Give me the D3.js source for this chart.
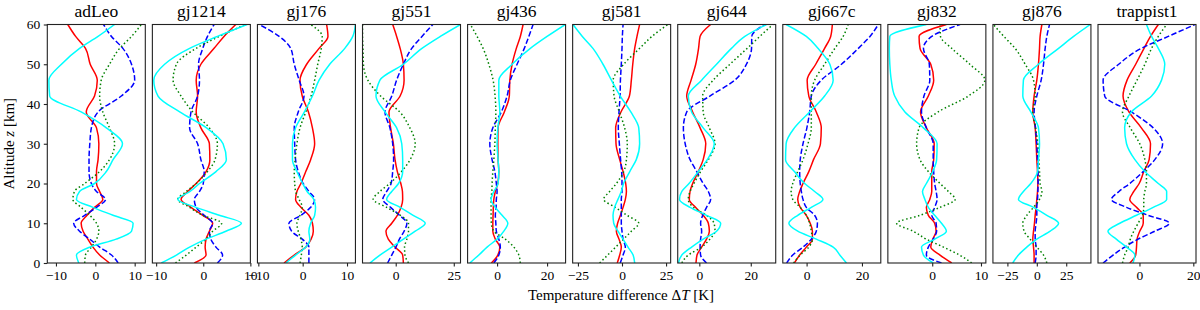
<!DOCTYPE html>
<html>
<head>
<meta charset="utf-8">
<script src="https://d3js.org/d3.v7.min.js"></script>
<style>
  body { margin: 0; background: #fff; }
  text { font-family: "Liberation Serif", "DejaVu Serif", serif; fill: #000; }
</style>
</head>
<body>
<svg id="chart" width="1200" height="310"></svg>
<script>
// altitude grid [km]
var altitudes = [0, 2, 4, 6, 8, 10, 12, 14, 16, 18, 20, 23, 26, 30, 34, 38, 42, 46, 50, 54, 57, 60];

var stars = ["adLeo", "gj1214", "gj176", "gj551", "gj436", "gj581", "gj644", "gj667c", "gj832", "gj876", "trappist1"];
var xLimits = [[-12.2, 12.7], [-10.8, 10.0], [-10.2, 11.9], [-14.3, 27.9], [-11.8, 27.4], [-28, 27.6],
               [-8.4, 29.7], [-8.6, 26.8], [-9.1, 11.0], [-37.3, 46], [-15.4, 21]];
var xTickValues = [[-10, 0, 10], [-10, 0, 10], [-10, 0, 10], [0, 25], [0, 20], [-25, 0, 25],
                   [0, 20], [0, 20], [0, 10], [-25, 0, 25], [0, 20]];
var yTickValues = [0, 10, 20, 30, 40, 50, 60];

// temperature differences [K], one array per star and curve
var adLeoRed   = [3.6, 1.1, -0.6, -1.9, -3.1, -3.6, -2.1, -0.2, 1.9, 1.1, 0.3, 0.3, 0.7, 0.9, 0.3, -2.3, -0.2, 0.5, -1.3, -2.5, -5, -7];
var adLeoBlue  = [5.8, 4.1, 1.1, -1.4, -4, -5.5, -2.7, 0.3, 2.6, 0.3, -1, -1.6, -1.6, -1.4, -1, 0.7, 6.6, 10, 9.2, 7, 4.1, 2.1];
var adLeoGreen = [-2.7, -2.5, -1, 0.3, 0.9, 0.3, -1.4, -3.6, -5.7, -5.3, -2.7, 1.1, 3.6, 4.9, 3.6, 1.9, 1.1, 1.5, 3.6, 6.2, 9.2, 11.7];
var adLeoCyan  = [-4.2, -4.8, -1.4, 5.3, 9.2, 9.6, 4.5, -0.6, -4.8, -4, -0.2, 2.8, 4.5, 6.9, 2.8, -3.6, -11.6, -11.8, -8.6, -4, 0.7, 4.9];

var gj1214Red   = [-1.9, 0.6, 0.4, 0.6, 1.3, 2, -0.1, -2.6, -4.7, -3.3, -1.5, 0.6, 1.4, 1.3, -0.5, -1.5, -1.2, -1.5, -0.5, 2.3, 4.4, 6.9];
var gj1214Blue  = [3, 4.1, 2.7, 1.6, 1.3, 2, 0.2, -1.5, -1.9, -0.8, 0, 0.2, -0.5, -1.2, -2.9, -2.6, -1.2, -0.8, -1, -0.1, 0.9, 2.3];
var gj1214Green = [-5.9, -3.6, -1.5, 0.6, 2, 3.9, -0.1, -2.9, -5.4, -3.6, -1.5, 0.9, 2.5, 3, 1.3, -2.2, -4.7, -6.4, -5.7, -1.5, 3.4, 9];
var gj1214Cyan  = [-8.9, -5.7, -2.9, 0.6, 4.8, 8.1, 3.4, -1.5, -5.4, -2.8, -0.8, 2.7, 4.9, 4.2, 0.7, -5, -9.6, -10.5, -8.2, -2.9, 3, 9.3];

var gj176Red   = [-4.2, -1.9, 0.7, 1.9, 2.4, 2.2, 1.4, -0.4, -1.6, -1.3, -0.4, 0.7, 1.8, 2.7, 2.2, 1.3, -0.1, -0.6, 0.9, 3.7, 5.7, 5.4];
var gj176Blue  = [1.4, 1.4, 1.4, -0.1, -2.5, -3.1, -0.4, 1.8, 2.7, 1.4, 0.1, -1, -1.6, -1.8, -1.9, -1, 0.3, -0.8, -1.9, -2.7, -5.3, -9.8];
var gj176Green = [-0.6, -0.3, -0.1, -0.4, -1, -1.3, -0.6, -0.1, -0.8, -1.6, -1.8, -1.9, -1.7, -1.3, -0.6, 0.7, 1.9, 2.7, 3.4, 4.2, 4.4, 1.8];
var gj176Cyan  = [-3.8, -1.6, 0.7, 1.6, 1.4, 1.8, 2.7, 2.9, 2.5, 1, 0, -1.3, -2.3, -2.3, -1.6, 0.4, 2.2, 3.7, 6.1, 9.5, 11.3, 11.9];

var gj551Red   = [3.3, 3, -0.3, -3.2, -4.2, -1.7, 0.7, 2.3, 3, 2.9, 2.2, 0.7, -0.3, -1, -2.2, -2.9, 1.9, 3.6, 3.3, 1.9, 0.4, -1.3];
var gj551Blue  = [-3.5, -1.7, 0.1, 1.6, 3.6, 4.8, 1.6, -2.2, -5.6, -3.9, -2, -1.3, -0.9, -1.3, -2.5, -4.6, -1.7, 0.4, 3.3, 6.9, 11.3, 16];
var gj551Green = [5.5, 4, 3.8, 4.8, 5.5, 5.5, 2, -3.9, -9.7, -6.8, -2.6, 2.5, 6.2, 8.4, 6.1, 1.7, -6.5, -12, -13.9, -14.1, -14.3, -14.3];
var gj551Cyan  = [-11.1, -6.8, -1.7, 3.3, 8.4, 12.7, 7.5, 1.9, -3.9, -1.7, 1.2, 3, 3, 2.6, 0.4, -4.6, -8.5, -6.8, 3.3, 11.3, 19.2, 27.9];

var gj436Red   = [-2.3, 0.3, 1.1, -0.7, -1.7, -1.7, -1.6, -1.5, -1.3, -0.7, 0.3, 0.7, 0.4, 0.3, 0.4, 2.9, 4.9, 5.1, 6, 7.7, 9.3, 10.4];
var gj436Blue  = [-1.3, 0.7, 1.3, 0.7, -0.3, -0.5, -0.7, -0.4, -0.3, 0, -0.3, -0.9, -2, -2.9, -1.7, 1.7, 4, 5.3, 8, 10.9, 12.7, 14.4];
var gj436Green = [9.3, 8.7, 6.7, 3.3, -1.3, -2.3, -2.4, -2.4, -2.4, -2.1, -2, -1.7, -1.3, -0.9, -0.7, -0.5, -0.8, -1.6, -3.3, -5.6, -8, -10.7];
var gj436Cyan  = [-10.9, -7.3, -4, 0, 2.7, 4.3, 2, -0.7, -2.4, -1.3, 0.4, 0.7, 0.4, 0, 0.3, 1.1, 0.7, 0.7, 6, 13.3, 20, 27.3];

var gj581Red   = [-2.7, -1.3, -0.4, -1.7, -3.2, -2.5, -0.9, 0.6, 1.9, 2.5, 2.1, 0.6, -1.3, -3.4, -3.6, -0.6, 4.2, 5.3, 6.1, 7.2, 8.5, 10];
var gj581Blue  = [-1, 0.6, 1.9, 0.6, 0, -0.4, -0.4, -0.4, -0.4, 0, 0, -0.2, -0.8, -1.5, -2.1, -1.7, -1.1, -0.9, -0.4, 0, 0.2, 0.6];
var gj581Green = [-12.7, -8.1, -3.6, 0.9, 5.3, 9.5, 2.8, -3.8, -10.4, -7, -3.2, 1, 2.5, 3, 1.5, -1.5, -4.5, -5, 1, 10, 17, 26];
var gj581Cyan  = [7.2, 6.3, 3.4, 0.6, -2.3, -4.7, -5.1, -4.2, -2.3, -0.4, 0.9, 4.4, 8.1, 10, 9.5, 5, -1, -6, -10.8, -16.5, -22.5, -27.8];

var gj644Red   = [-1.3, -0.9, 0.9, 2.8, 3.9, 3.5, 1.5, -1.5, -3.9, -3.6, -2.6, -0.4, 1.5, 2.5, 0.3, -2.6, -4.9, -3.2, -1.4, -0.3, 0.3, 4.4];
var gj644Blue  = [2.8, 0.5, 0.3, 0.5, 0.9, 0.5, 1.3, 2.8, 4.4, 3.5, 1.5, -1, -3.6, -5.5, -6.2, -4.9, 4.1, 13.8, 18.3, 20.3, 20.4, 25.4];
var gj644Green = [-6.8, -4.3, 0.9, 4.1, 6.1, 5.7, 2.8, -2.3, -4.3, -3.6, -2.1, 0.5, 3.5, 6.1, 3.9, 1.5, 1.3, 5.4, 11.9, 18.6, 23.5, 28.6];
var gj644Cyan  = [-8.1, -6.8, -3, 1.5, 6.7, 8.3, 2.8, -3.6, -7.7, -6.8, -4, -0.4, 3.1, 5.8, 1.5, -3, -4.3, 0.9, 6.7, 12.5, 17.7, 26.1];

var gj667cRed   = [-4.4, -2.5, -0.1, 2.1, 2.1, 1.3, -0.1, -2.3, -3.2, -2.5, -1.3, 0.8, 2.5, 5, 5.3, 3.5, 0.8, 0.2, 3.3, 6.5, 8.7, 9.3];
var gj667cBlue  = [-7.2, -5, -1.3, 1.7, 3.5, 3.9, 2.9, -0.1, -1.3, -1.9, -2.3, -2.5, -2.3, -1.3, 0.1, 1.1, 1.7, 5.3, 12.6, 18.7, 22.9, 25.9];
var gj667cGreen = [-4.7, -2.3, 0.8, 2.1, 1.7, 1.1, -0.1, -2.3, -5, -5.6, -5, -3.2, -1.3, 0.5, 1.7, 1.7, 1.7, 2.9, 6.5, 10.2, 13.2, 15];
var gj667cCyan  = [14.4, 12, 9.6, 3.5, -3.2, -6.4, -3.2, 1.7, 5.9, 2.9, -0.7, -4.4, -7.6, -7.4, -4.4, 1.1, 6.5, 9.6, 8.4, 4.1, -0.1, -7.4];

var gj832Red   = [4, 1.6, -0.3, 0.1, 0.8, 0.5, -0.8, -1.2, -0.5, -0.1, -0.1, -0.1, 0.3, 0.4, -1.2, -2.4, -0.8, 0.3, -0.3, -2.5, -2.7, 2.9];
var gj832Blue  = [1.9, -1.2, -0.8, 0.2, 0.9, 0.8, -0.1, 0.5, 1, 0.8, 0.5, 0.3, 0.2, 0.2, -1.2, -2.2, -1.7, -0.5, -0.6, -1.8, -0.1, 5.7];
var gj832Green = [8.1, 5.6, 2.3, -1.2, -3.9, -7.3, -2.5, 1.6, 4.7, 3.3, 1.6, -0.8, -2.5, -3.2, -2.7, 1.2, 7.4, 10.8, 7.7, 4, 1.7, 1.6];
var gj832Cyan  = [0.2, -1.8, -2.2, 0.5, 2.9, 1.9, 0.5, -0.8, -1.5, -2, -1.2, 0.1, 0.9, 1, -1.8, -5.6, -7.7, -8.4, -8.7, -8.8, -8.7, -1.2];

var gj876Red   = [-2.3, -2.3, -2.8, -3.4, -2.8, -2, -1.4, -0.6, 0, 0.6, 0.9, 0.6, 0, -0.6, -1.4, -3.4, -2.3, 0, 1.4, 2.3, 2.8, 4.3];
var gj876Blue  = [-1.4, -0.6, -0.6, -1.4, -1.4, -0.6, 0, 0, 0.6, 0.9, 1.1, 1.1, 0.6, 0, -1.1, -2.3, 0, 3.7, 5.7, 7.1, 8.5, 10.8];
var gj876Green = [8.5, 5.7, 0, -5.7, -10.8, -11.9, -8.5, -2.8, 2.3, 4.3, 2.8, 2.3, 1.7, 0.9, -1.1, -3.4, -1.4, -2.8, -9.9, -18.5, -28, -36.9];
var gj876Cyan  = [-20.5, -15.6, -8.5, 0, 11.4, 18.5, 8.5, -2.8, -15.6, -11.4, -5.1, 0.6, 1.4, 2.3, 1.4, -5.1, -11.9, -11.4, 1.4, 18.5, 31.3, 45.5];

var trappist1Red   = [-3.6, -1.4, -1.1, -0.9, 0.1, 1.4, 1.4, -1.1, -3.6, -2.1, -0.1, 1.6, 3.6, 4.1, 0.7, -3.9, -6.1, -4.6, -1.4, 1.7, 4.1, 7];
var trappist1Blue  = [-13.5, -9.8, -5.5, -0.5, 5.7, 11.1, 3.2, -4.8, -10.4, -7.6, -3.6, 1.4, 5.7, 8.6, 5.1, -3, -12.9, -13.5, -7.7, 0.7, 10.7, 20.6];
var trappist1Green = [-6.3, -5.5, -4.2, -3.4, -2.1, -0.5, 1.1, 1.6, 1.6, 2, 2.6, 2.6, 2, 0.1, -3.4, -6.3, -3.9, -0.9, 2, 4.5, 7, 10.1];
var trappist1Cyan  = [-2.4, -1.7, -4.8, -8.6, -11.7, -7.3, -1.1, 5.1, 10.1, 10.1, 7, 2, -1.7, -4.8, -5.5, -3, 4.5, 8.2, 9.4, 7, 4.5, 2.6];

var panelData = [
  [adLeoRed, adLeoBlue, adLeoGreen, adLeoCyan],
  [gj1214Red, gj1214Blue, gj1214Green, gj1214Cyan],
  [gj176Red, gj176Blue, gj176Green, gj176Cyan],
  [gj551Red, gj551Blue, gj551Green, gj551Cyan],
  [gj436Red, gj436Blue, gj436Green, gj436Cyan],
  [gj581Red, gj581Blue, gj581Green, gj581Cyan],
  [gj644Red, gj644Blue, gj644Green, gj644Cyan],
  [gj667cRed, gj667cBlue, gj667cGreen, gj667cCyan],
  [gj832Red, gj832Blue, gj832Green, gj832Cyan],
  [gj876Red, gj876Blue, gj876Green, gj876Cyan],
  [trappist1Red, trappist1Blue, trappist1Green, trappist1Cyan]
];

// line styles: red solid, blue dashed, green dotted, cyan solid
var styles = [
  { color: "#ff0000", dash: null },
  { color: "#0000ff", dash: "5.5,2.4" },
  { color: "#008000", dash: "1.5,2.5" },
  { color: "#00ffff", dash: null }
];

var marginLeft = 47.3, marginTop = 24.5, panelW = 98, gap = 7.07, plotH = 238.5;

var svg = d3.select("#chart");

var y = d3.scaleLinear().domain([0, 60]).range([plotH, 0]);

stars.forEach(function(name, i) {
  var x = d3.scaleLinear().domain(xLimits[i]).range([0, panelW]);
  var g = svg.append("g")
      .attr("transform", "translate(" + (marginLeft + i * (panelW + gap)) + "," + marginTop + ")");

  g.append("clipPath").attr("id", "clip" + i)
    .append("rect").attr("width", panelW).attr("height", plotH);

  var line = d3.line()
      .x(function(d) { return x(d[0]); })
      .y(function(d) { return y(d[1]); })
      .curve(d3.curveMonotoneY);

  var lines = g.append("g").attr("clip-path", "url(#clip" + i + ")");
  panelData[i].forEach(function(values, k) {
    var pts = values.map(function(v, j) { return [v, altitudes[j]]; });
    lines.append("path")
      .datum(pts)
      .attr("d", line)
      .attr("fill", "none")
      .attr("stroke", styles[k].color)
      .attr("stroke-width", 1.5)
      .attr("stroke-dasharray", styles[k].dash);
  });

  // frame
  g.append("rect")
    .attr("width", panelW).attr("height", plotH)
    .attr("fill", "none").attr("stroke", "#222").attr("stroke-width", 1.1);

  // x axis
  var xAxis = g.append("g")
      .attr("transform", "translate(0," + plotH + ")")
      .call(d3.axisBottom(x).tickValues(xTickValues[i]).tickSize(3.5).tickPadding(3.5)
        .tickFormat(function(d) { return d < 0 ? "\u2212" + Math.abs(d) : d; }));
  xAxis.select(".domain").remove();
  xAxis.selectAll("line").attr("stroke", "#222").attr("stroke-width", 1.1);
  xAxis.selectAll("text").attr("font-size", "13.5px")
    .attr("font-family", "Liberation Serif, serif").attr("fill", "#000");

  if (i === 0) {
    var yAxis = g.append("g")
        .call(d3.axisLeft(y).tickValues(yTickValues).tickSize(3.5).tickPadding(3.5));
    yAxis.select(".domain").remove();
    yAxis.selectAll("line").attr("stroke", "#222").attr("stroke-width", 1.1);
    yAxis.selectAll("text").attr("font-size", "13.5px")
      .attr("font-family", "Liberation Serif, serif").attr("fill", "#000");
  }

  // panel title
  g.append("text")
    .attr("x", panelW / 2).attr("y", -7.8)
    .attr("text-anchor", "middle")
    .attr("font-size", "17.5px")
    .text(name);
});

// axis labels
var xLabel = svg.append("text")
    .attr("x", 621).attr("y", 299.5)
    .attr("text-anchor", "middle")
    .attr("font-size", "15px");
xLabel.append("tspan").text("Temperature difference \u0394");
xLabel.append("tspan").attr("font-style", "italic").text("T");
xLabel.append("tspan").text(" [K]");

var yLabel = svg.append("text")
    .attr("transform", "translate(14," + (marginTop + plotH / 2) + ") rotate(-90)")
    .attr("text-anchor", "middle")
    .attr("font-size", "15px");
yLabel.append("tspan").text("Altitude ");
yLabel.append("tspan").attr("font-style", "italic").text("z");
yLabel.append("tspan").text(" [km]");
</script>
</body>
</html>
